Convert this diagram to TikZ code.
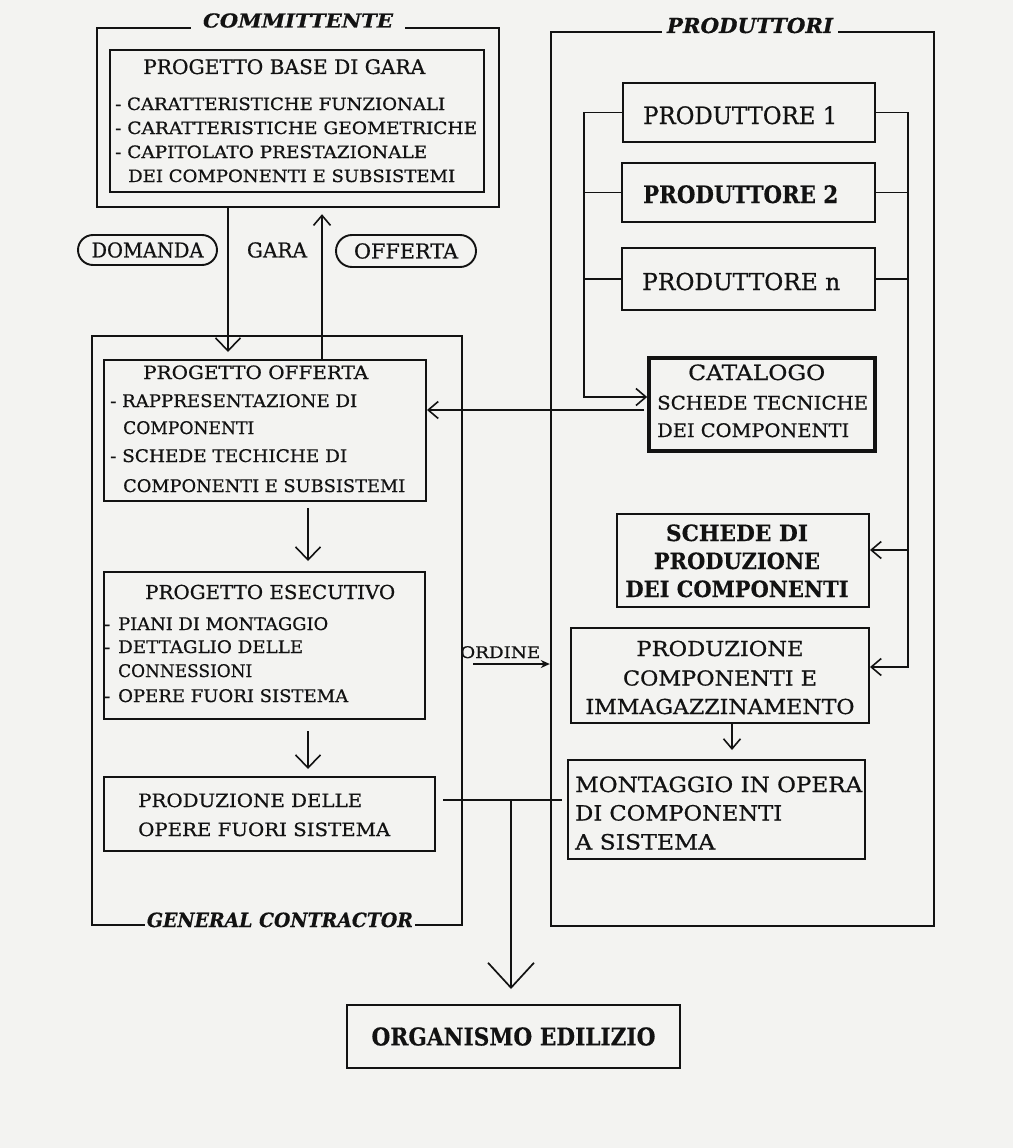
\documentclass[tikz,border=0pt]{standalone}
\usepackage{fontspec}
\setmainfont{DejaVu Serif}[UprightFeatures={FakeBold=0.7},BoldFeatures={FakeBold=0.4},BoldItalicFeatures={FakeBold=0.5}]
\usetikzlibrary{arrows.meta,shapes.misc,fit}
\definecolor{paper}{RGB}{243,243,241}
\definecolor{ink}{RGB}{18,18,18}
% stretch a line of text to a given width, keeping its height
\newcommand\fitw[2]{\resizebox{#1pt}{\height}{#2}}
\newcommand\fs[1]{\fontsize{#1}{#1}\selectfont}
\begin{document}
\begin{tikzpicture}[x=1pt,y=-1pt,
  frame/.style={draw=ink,line width=2.4pt,inner sep=0pt},
  box/.style={draw=ink,line width=2pt,inner sep=0pt},
  heavybox/.style={draw=ink,line width=3.6pt,inner sep=0pt},
  oval/.style={draw=ink,line width=1.9pt,rounded rectangle,inner sep=0pt},
  wire/.style={draw=ink,line width=1.8pt},
  tipS/.style={-{Straight Barb[length=10pt,width=17pt,line width=1.6pt]}},
  tipM/.style={-{Straight Barb[length=13pt,width=25pt,line width=1.6pt]}},
  tipL/.style={-{Straight Barb[length=25pt,width=46pt,line width=1.7pt]}},
  tipF/.style={-{Stealth[length=9pt,width=8pt]}},
  tl/.style={inner sep=0pt,anchor=base west,text=ink},
  tc/.style={inner sep=0pt,anchor=base,text=ink},
  frametitle/.style={anchor=base,text=ink,fill=paper,inner ysep=3pt,font=\bfseries\itshape\fs{#1}},
]
\fill[paper] (0,0) rectangle (1013,1148);
\useasboundingbox (0,0) rectangle (1013,1148);

% ---------- outer frames ----------
\node[frame,fit={(97,28) (499,207)}] (comm) {};
\node[frame,fit={(92,336) (462,925)}] (gc) {};
\node[frame,fit={(551,32) (934,926)}] (prod) {};
\node[frametitle=19.2,inner xsep=12pt] (commt) at (298,27.5) {\fitw{190}{COMMITTENTE}};
\node[frametitle=19.6,inner xsep=2pt] (gct) at (280,927) {\fitw{266}{GENERAL CONTRACTOR}};
\node[frametitle=20.6,inner xsep=5pt] (prodt) at (750,33) {\fitw{166}{PRODUTTORI}};

% ---------- client side ----------
\node[box,fit={(110,50) (484,192)}] (pbg) {};
\node[tl,font=\fs{20}] (pbgh) at (143,74) {\fitw{282}{PROGETTO BASE DI GARA}};
\node[tl,font=\fs{17}] (pbg1) at (115,110) {\fitw{330}{- CARATTERISTICHE FUNZIONALI}};
\node[tl,font=\fs{17}] (pbg2) at (115,134) {\fitw{362}{- CARATTERISTICHE GEOMETRICHE}};
\node[tl,font=\fs{17}] (pbg3) at (115,158) {\fitw{312}{- CAPITOLATO PRESTAZIONALE}};
\node[tl,font=\fs{17}] (pbg4) at (128,182) {\fitw{327}{DEI COMPONENTI E SUBSISTEMI}};

\node[oval,minimum width=139pt,minimum height=30pt,font=\fs{20.5},text=ink] (dom) at (147.5,250) {\fitw{112}{DOMANDA}};
\node[inner sep=0pt,font=\fs{20.5},text=ink] (gara) at (277,250) {\fitw{60}{GARA}};
\node[oval,minimum width=140pt,minimum height=32pt,font=\fs{20.5},text=ink] (off) at (406,251) {\fitw{104}{OFFERTA}};

% ---------- general contractor ----------
\node[box,fit={(104,360) (426,501)}] (po) {};
\node[tl,font=\fs{18.3}] (poh) at (143,379) {\fitw{225}{PROGETTO OFFERTA}};
\node[tl,font=\fs{17.4}] (po1) at (110,407) {\fitw{247}{- RAPPRESENTAZIONE DI}};
\node[tl,font=\fs{17.4}] (po2) at (123,434) {\fitw{131}{COMPONENTI}};
\node[tl,font=\fs{17.4}] (po3) at (110,462) {\fitw{237}{- SCHEDE TECHICHE DI}};
\node[tl,font=\fs{17.4}] (po4) at (123,492) {\fitw{282}{COMPONENTI E SUBSISTEMI}};

\node[box,fit={(104,572) (425,719)}] (pe) {};
\node[tl,font=\fs{19.2}] (peh) at (145,599) {\fitw{250}{PROGETTO ESECUTIVO}};
\node[tl,font=\fs{17.4}] (pe1) at (118,630) {\makebox[0pt][r]{-\hspace{8pt}}\fitw{210}{PIANI DI MONTAGGIO}};
\node[tl,font=\fs{17.4}] (pe2) at (118,653) {\makebox[0pt][r]{-\hspace{8pt}}\fitw{185}{DETTAGLIO DELLE}};
\node[tl,font=\fs{17.4}] (pe3) at (118,677) {\fitw{134}{CONNESSIONI}};
\node[tl,font=\fs{17.4}] (pe4) at (118,702) {\makebox[0pt][r]{-\hspace{8pt}}\fitw{230}{OPERE FUORI SISTEMA}};

\node[box,fit={(104,777) (435,851)}] (pfs) {};
\node[tl,font=\fs{18.3}] (pfs1) at (138,807) {\fitw{224}{PRODUZIONE DELLE}};
\node[tl,font=\fs{18.3}] (pfs2) at (138,836) {\fitw{252}{OPERE FUORI SISTEMA}};

% ---------- producers ----------
\node[box,fit={(623,83) (875,142)}] (p1) {};
\node[box,fit={(622,163) (875,222)}] (p2) {};
\node[box,fit={(622,248) (875,310)}] (pn) {};
\node[tl,font=\fs{24}] (p1t) at (643,124) {\fitw{194}{PRODUTTORE 1}};
\node[tl,font=\bfseries\fs{24}] (p2t) at (643,203) {\fitw{195}{PRODUTTORE 2}};
\node[tl,font=\fs{23.3}] (pnt) at (642,290) {\fitw{198}{PRODUTTORE n}};

\node[heavybox,fit={(649,358) (875,451)}] (cat) {};
\node[tl,font=\fs{21}] (cat1) at (688,380) {\fitw{137}{CATALOGO}};
\node[tl,font=\fs{18.7}] (cat2) at (657,409.5) {\fitw{211}{SCHEDE TECNICHE}};
\node[tl,font=\fs{18.7}] (cat3) at (657,437) {\fitw{192}{DEI COMPONENTI}};

\node[box,fit={(617,514) (869,607)}] (sdp) {};
\node[tc,font=\bfseries\fs{22.4}] (sdp1) at (737,541) {\fitw{142}{SCHEDE DI}};
\node[tc,font=\bfseries\fs{22.4}] (sdp2) at (737,569) {\fitw{166}{PRODUZIONE}};
\node[tc,font=\bfseries\fs{22.4}] (sdp3) at (737,597) {\fitw{223}{DEI COMPONENTI}};

\node[box,fit={(571,628) (869,723)}] (pci) {};
\node[tc,font=\fs{20.6}] (pci1) at (720,656) {\fitw{167}{PRODUZIONE}};
\node[tc,font=\fs{20.6}] (pci2) at (720,685.5) {\fitw{194}{COMPONENTI E}};
\node[tc,font=\fs{20.6}] (pci3) at (720,714) {\fitw{269}{IMMAGAZZINAMENTO}};

\node[box,fit={(568,760) (865,859)}] (mont) {};
\node[tl,font=\fs{21}] (m1) at (575,792) {\fitw{287}{MONTAGGIO IN OPERA}};
\node[tl,font=\fs{21}] (m2) at (575,820.5) {\fitw{207}{DI COMPONENTI}};
\node[tl,font=\fs{21}] (m3) at (575,849.5) {\fitw{140}{A SISTEMA}};

% ---------- result ----------
\node[box,minimum width=333pt,minimum height=63pt,font=\bfseries\fs{24.5},text=ink] (org) at (513.5,1036.5) {\fitw{284}{ORGANISMO EDILIZIO}};

% ---------- connectors ----------
\coordinate (dx) at (228,0);
\coordinate (ux) at (322,0);
\coordinate (ex) at (308,0);
\coordinate (mx) at (732,0);
\coordinate (lbx) at (584,0);
\coordinate (rbx) at (908,0);
\coordinate (catin) at (584,397);
\coordinate (catout) at (644,410);
\coordinate (sdpin) at (908,550);
\coordinate (pciin) at (908,667);
\coordinate (ord) at (473,664);
\coordinate (jx) at (511,800);

% tender: request down, offer up
\draw[wire,tipM,shorten >=7pt] (comm.south -| dx) -- (po.north -| dx);
\draw[wire,tipS,shorten >=6pt] (po.north -| ux) -- (comm.south -| ux);
% design sequence inside the contractor
\draw[wire,tipM,shorten <=6pt,shorten >=10pt] (po.south -| ex) -- (pe.north -| ex);
\draw[wire,tipM,shorten <=11pt,shorten >=7pt] (pe.south -| ex) -- (pfs.north -| ex);
% producers feed the catalogue
\draw[wire,tipS] (p1.west) -| (catin) -- (cat.west |- catin);
\draw[wire] (p2.west) -- (p2.west -| lbx);
\draw[wire] (pn.west) -- (pn.west -| lbx);
% producers feed production
\draw[wire,tipS] (p1.east) -| (pciin) -- (pci.east |- pciin);
\draw[wire] (p2.east) -- (p2.east -| rbx);
\draw[wire] (pn.east) -- (pn.east -| rbx);
\draw[wire,tipS] (sdpin) -- (sdp.east |- sdpin);
% catalogue data back to the offer
\draw[wire,tipS] (catout) -- (po.east |- catout);
% order
\draw[wire,tipF] (ord) -- (prod.west |- ord);
\node[tl,font=\fs{16}] (ordl) at (460,658) {\fitw{80}{ORDINE}};
% production to assembly
\draw[wire,tipS,shorten >=9pt] (pci.south -| mx) -- (mont.north -| mx);
% both branches converge on the building
\draw[wire,shorten <=7pt,shorten >=5pt] (pfs.east |- jx) -- (mont.west |- jx);
\draw[wire,tipL,shorten >=15pt] (jx) -- (org.north -| jx);
\end{tikzpicture}
\end{document}
